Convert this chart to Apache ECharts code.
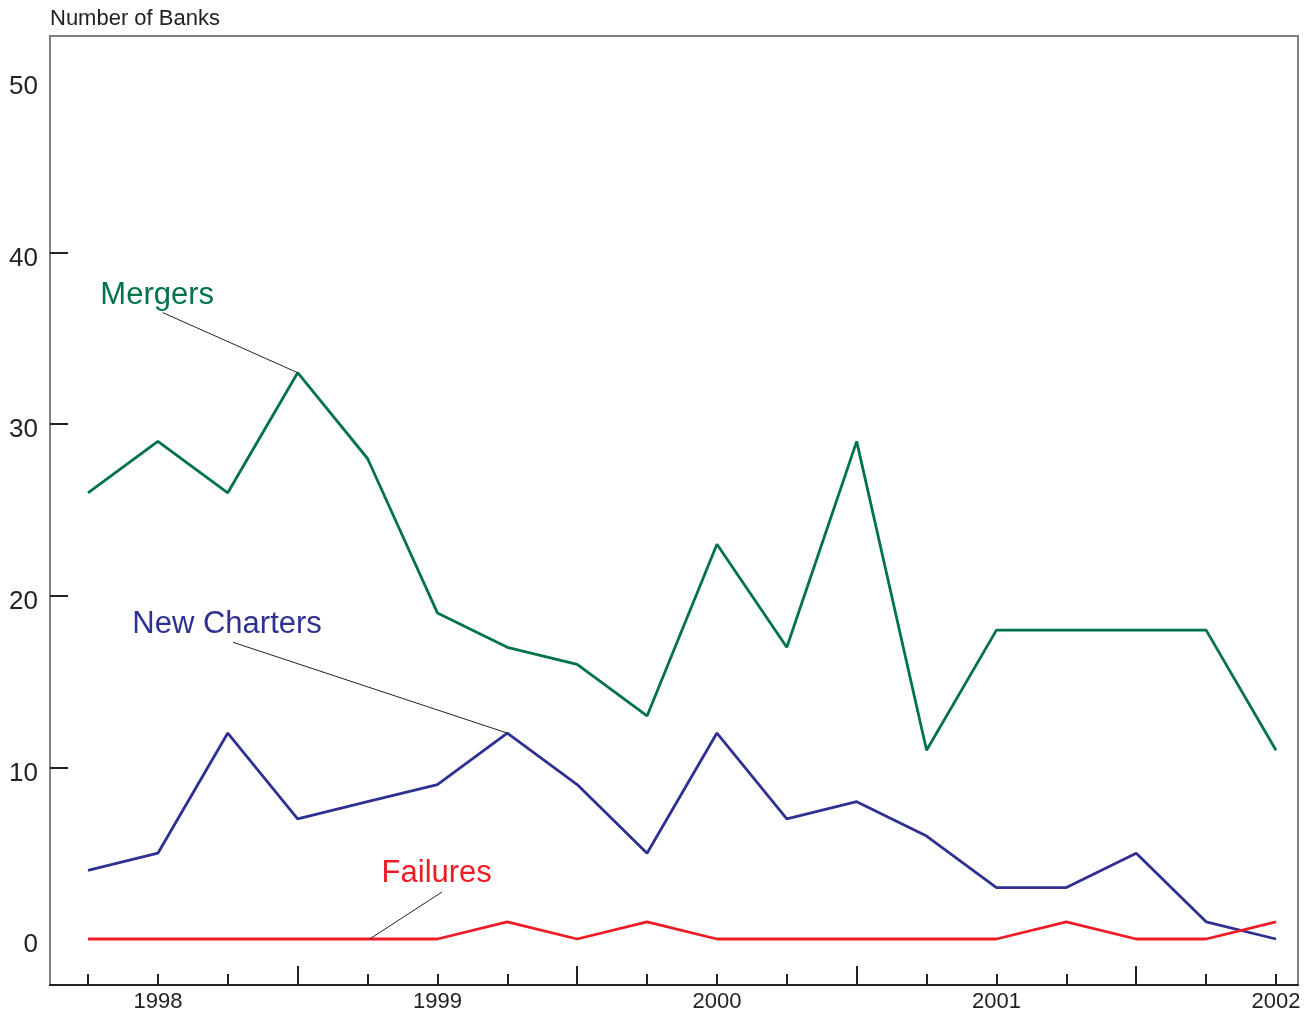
<!DOCTYPE html>
<html>
<head>
<meta charset="utf-8">
<script src="https://cdn.jsdelivr.net/npm/echarts@6/dist/echarts.min.js"></script>
<style>
html,body{margin:0;padding:0;background:#fff;}
#chart{width:1316px;height:1013px;}
</style>
</head>
<body>
<div id="chart"></div>
<script>
// Quarterly observations, 1997 Q4 through 2002 Q1
var quarters = ['1997Q4','1998Q1','1998Q2','1998Q3','1998Q4','1999Q1','1999Q2','1999Q3','1999Q4',
                '2000Q1','2000Q2','2000Q3','2000Q4','2001Q1','2001Q2','2001Q3','2001Q4','2002Q1'];
var mergers     = [26, 29, 26, 33, 28, 19, 17, 16, 13, 23, 17, 29, 11, 18, 18, 18, 18, 11];
var newCharters = [4, 5, 12, 7, 8, 9, 12, 9, 5, 12, 7, 8, 6, 3, 3, 5, 1, 0];
var failures    = [0, 0, 0, 0, 0, 0, 1, 0, 1, 0, 0, 0, 0, 0, 1, 0, 0, 1];
var yearLabels  = ['1998', '1999', '2000', '2001', '2002'];
var yTickLabels = [0, 10, 20, 30, 40, 50];

var FONT = '"Liberation Sans", Arial, Helvetica, sans-serif';
var C_M = '#007347', C_N = '#2e3192', C_F = '#ed1c24';

function pairs(arr){ return arr.map(function(v,i){ return [i, v]; }); }
var yearIdx = [];
quarters.forEach(function(q,i){ if (q.slice(4) === 'Q1') yearIdx.push(i); });
var midIdx = [];
quarters.forEach(function(q,i){ if (q.slice(4) === 'Q3') midIdx.push(i); });
var allIdx = quarters.map(function(q,i){ return i; });

function leader(a, b){
  return {silent:true, symbol:['none','none'], label:{show:false},
    lineStyle:{color:'#222', width:1, type:'solid'},
    data:[[{coord:a},{coord:b}]], animation:false};
}
function tag(text, at, color){
  return {silent:true, animation:false,
    data:[{coord:at, value:0, symbol:'circle', symbolSize:0,
      label:{show:true, position:'inside', formatter:text, color:color,
        fontSize:31, fontFamily:FONT}}]};
}

var xMin = -0.544, xMax = 17.315;
var chart = echarts.init(document.getElementById('chart'), null, {renderer:'canvas'});
chart.setOption({
  animation:false,
  backgroundColor:'#fff',
  title:{text:'Number of Banks', left:50, top:8, padding:0,
    textStyle:{fontFamily:FONT, fontSize:22, fontWeight:'normal', color:'#222'}},
  grid:{left:50, right:18, top:36, bottom:27, show:true, borderColor:'#808080', borderWidth:2},
  xAxis:[{
    type:'value', min:xMin, max:xMax,
    splitLine:{show:false},
    axisLine:{show:true, onZero:false, lineStyle:{color:'#222', width:2}},
    axisTick:{show:true, inside:true, length:11, lineStyle:{color:'#222', width:2}, customValues:allIdx},
    axisLabel:{show:true, customValues:yearIdx, margin:6, color:'#222', fontSize:22, fontFamily:FONT,
      formatter:function(v){ var k = yearIdx.indexOf(Math.round(v)); return k>=0 ? yearLabels[k] : ''; }}
  },{
    type:'value', min:xMin, max:xMax, position:'bottom',
    splitLine:{show:false},
    axisLine:{show:false, onZero:false},
    axisTick:{show:true, inside:true, length:19, lineStyle:{color:'#222', width:2}, customValues:midIdx},
    axisLabel:{show:false}
  }],
  yAxis:{
    type:'value', min:-2.68, max:52.62, position:'left',
    splitLine:{show:false},
    axisLine:{show:false, onZero:false},
    axisTick:{show:true, inside:true, length:18, lineStyle:{color:'#222', width:2}, customValues:[10,20,30,40]},
    axisLabel:{customValues:yTickLabels, margin:12, color:'#222', fontSize:26, fontFamily:FONT,
      verticalAlign:'top', lineHeight:12}
  },
  series:[
    {name:'Mergers', type:'line', data:pairs(mergers), symbol:'none',
      lineStyle:{color:C_M, width:2.8}, itemStyle:{color:C_M},
      markLine:leader([1.07,36.5],[3,33]),
      markPoint:tag('Mergers',[0.99,37.48],C_M)},
    {name:'New Charters', type:'line', data:pairs(newCharters), symbol:'none',
      lineStyle:{color:C_N, width:2.8}, itemStyle:{color:C_N},
      markLine:leader([2.075,17.29],[6,12]),
      markPoint:tag('New Charters',[1.99,18.33],C_N)},
    {name:'Failures', type:'line', data:pairs(failures), symbol:'none',
      lineStyle:{color:C_F, width:2.8}, itemStyle:{color:C_F},
      markLine:leader([5.066,2.74],[4.03,0]),
      markPoint:tag('Failures',[4.99,3.84],C_F)}
  ]
});
</script>
</body>
</html>
